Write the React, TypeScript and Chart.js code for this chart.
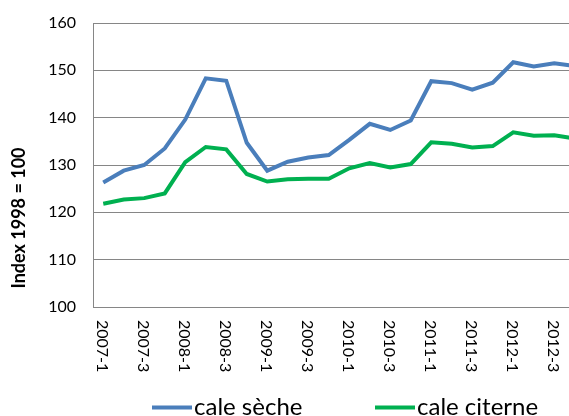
import React, { useEffect, useRef } from "react";
import { Chart, registerables } from "chart.js";

Chart.register(...registerables);

const quarters = [
  "2007-1", "2007-2", "2007-3", "2007-4",
  "2008-1", "2008-2", "2008-3", "2008-4",
  "2009-1", "2009-2", "2009-3", "2009-4",
  "2010-1", "2010-2", "2010-3", "2010-4",
  "2011-1", "2011-2", "2011-3", "2011-4",
  "2012-1", "2012-2", "2012-3", "2012-4",
];

const caleSeche = [
  126.3, 128.8, 130.0, 133.5,
  139.6, 148.3, 147.8, 134.7,
  128.8, 130.7, 131.6, 132.1,
  135.3, 138.7, 137.4, 139.4,
  147.7, 147.3, 145.9, 147.4,
  151.7, 150.8, 151.5, 150.9,
];

const caleCiterne = [
  121.8, 122.7, 123.0, 124.0,
  130.6, 133.8, 133.3, 128.1,
  126.5, 127.0, 127.1, 127.1,
  129.3, 130.4, 129.5, 130.2,
  134.8, 134.5, 133.7, 134.0,
  136.9, 136.2, 136.3, 135.6,
];

const seriesNames = ["cale sèche", "cale citerne"];
const seriesColors = ["#4a7ebb", "#00b050"];
const yTitle = "Index 1998 = 100";
const yMin = 100;
const yMax = 160;
const yStep = 10;

const FONT = "Lato, 'Open Sans', sans-serif";

const textPlugin = {
  id: "customText",
  afterDraw(chart: any) {
    const ctx = chart.ctx;
    const xs = chart.scales.x;
    const area = chart.chartArea;
    ctx.save();
    ctx.fillStyle = "#000";

    // x tick labels, rotated clockwise (read top to bottom)
    ctx.font = `16px ${FONT}`;
    ctx.textAlign = "left";
    ctx.textBaseline = "middle";
    quarters.forEach((q, i) => {
      if (i % 2 !== 0) return;
      const px = xs.getPixelForValue(i);
      ctx.save();
      ctx.translate(px - 1.5, area.bottom + 13);
      ctx.rotate(Math.PI / 2);
      ctx.fillText(q, 0, 0);
      ctx.restore();
    });

    // y axis title
    ctx.font = `bold 18px ${FONT}`;
    ctx.textAlign = "center";
    ctx.textBaseline = "middle";
    ctx.save();
    ctx.translate(19, 218);
    ctx.rotate(-Math.PI / 2);
    ctx.fillText(yTitle, 0, 0);
    ctx.restore();

    // legend
    ctx.font = `24px ${FONT}`;
    ctx.textAlign = "left";
    ctx.textBaseline = "alphabetic";
    const starts = [152, 375];
    chart.data.datasets.forEach((ds: any, i: number) => {
      const x0 = starts[i];
      ctx.strokeStyle = ds.borderColor;
      ctx.lineWidth = 4;
      ctx.beginPath();
      ctx.moveTo(x0, 407.5);
      ctx.lineTo(x0 + 40, 407.5);
      ctx.stroke();
      ctx.fillText(ds.label, x0 + 42, 415);
    });
    ctx.restore();
  },
};

export default function App() {
  const ref = useRef<HTMLCanvasElement>(null);

  useEffect(() => {
    if (!ref.current) return;
    const chart = new Chart(ref.current, {
      type: "line",
      data: {
        labels: quarters,
        datasets: [
          {
            label: seriesNames[0],
            data: caleSeche,
            borderColor: seriesColors[0],
            backgroundColor: seriesColors[0],
            borderWidth: 4,
            pointRadius: 0,
            tension: 0,
          },
          {
            label: seriesNames[1],
            data: caleCiterne,
            borderColor: seriesColors[1],
            backgroundColor: seriesColors[1],
            borderWidth: 4,
            pointRadius: 0,
            tension: 0,
          },
        ],
      },
      options: {
        animation: false,
        responsive: false,
        maintainAspectRatio: false,
        layout: { padding: { top: 23, right: 5, bottom: 0, left: 0 } },
        plugins: {
          legend: { display: false },
          tooltip: { enabled: false },
          title: { display: false },
        },
        scales: {
          x: {
            type: "category",
            offset: true,
            grid: { display: false, drawTicks: false },
            border: { display: true, color: "#868686", width: 1 },
            ticks: { display: false },
            afterFit(scale: any) {
              scale.height = 109;
              scale.paddingLeft = 0;
              scale.paddingRight = 0;
            },
          },
          y: {
            min: yMin,
            max: yMax,
            grid: { color: "#868686", lineWidth: 1, drawTicks: false },
            border: { display: true, color: "#868686", width: 1 },
            ticks: {
              stepSize: yStep,
              color: "#000",
              padding: 17,
              font: { family: FONT, size: 16 },
            },
            afterFit(scale: any) {
              scale.width = 93;
              scale.paddingTop = 0;
              scale.paddingBottom = 0;
            },
          },
        },
      },
      plugins: [textPlugin],
    });
    return () => chart.destroy();
  }, []);

  return (
    <div
      style={{
        position: "fixed",
        left: 0,
        top: 0,
        width: 569,
        height: 416,
        overflow: "hidden",
        background: "#fff",
      }}
    >
      <canvas ref={ref} width={590} height={416} style={{ display: "block" }} />
    </div>
  );
}
